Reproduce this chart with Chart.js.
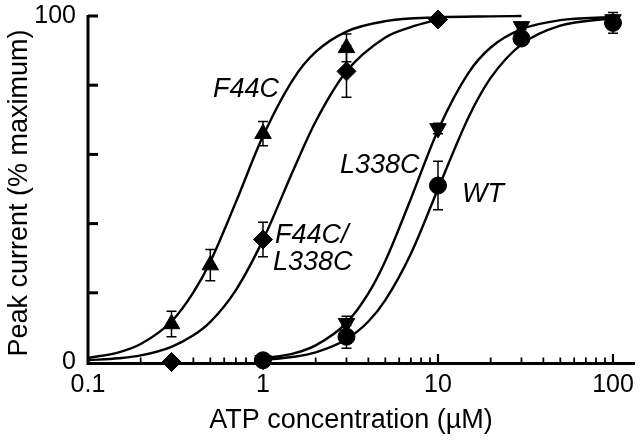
<!DOCTYPE html>
<html>
<head>
<meta charset="utf-8">
<script src="https://cdn.jsdelivr.net/npm/chart.js@4/dist/chart.umd.min.js"></script>
<style>
  html, body { margin: 0; padding: 0; background: #fff; }
  #wrap { width: 640px; height: 443px; }
</style>
</head>
<body>
<div id="wrap"><canvas id="c" width="640" height="443"></canvas></div>
<script>
// ---------- data ----------
// measured points (mean ± error), ATP concentration in µM
const f44cX   = [0.3, 0.5, 1, 3];
const f44cY   = [11, 28, 66, 90.8];
const f44cErr = [3.7, 4.5, 3.5, 4];

const dblX   = [0.3, 1, 3, 10];
const dblY   = [0, 35.4, 84, 99];
const dblErr = [0, 5, 7.5, 0];

const l338cX   = [1, 3, 10, 30, 100];
const l338cY   = [0.5, 11.2, 67.5, 97, 99];
const l338cErr = [0, 2, 1.5, 1, 0];

const wtX   = [1, 3, 10, 30, 100];
const wtY   = [0.5, 7.3, 51, 93.5, 98];
const wtErr = [0, 3.3, 7, 1.5, 3];

// fitted curves
const f44cCurveX = [0.1, 0.15, 0.2, 0.3, 0.4, 0.5, 0.7, 1, 1.5, 2, 3, 5, 10, 20, 30];
const f44cCurveY = [1.2, 2.8, 5.2, 11.7, 20.1, 29, 46.2, 65.3, 82, 89.6, 95.5, 98.5, 99.6, 99.9, 100];

const dblCurveX = [0.1, 0.15, 0.2, 0.3, 0.4, 0.5, 0.7, 1, 1.5, 2, 3, 5, 7, 10];
const dblCurveY = [0.5, 1.1, 1.9, 4.4, 7.7, 11.6, 20.8, 35.3, 55.8, 69.5, 84, 93.8, 96.8, 99];

const l338cCurveX = [1, 1.5, 2, 3, 4, 5, 7, 10, 15, 20, 30, 50, 100];
const l338cCurveY = [1.0, 2.5, 4.8, 11.3, 19.8, 29.2, 47.2, 67, 83.7, 90.9, 96.2, 98.8, 99.7];

const wtCurveX = [1, 1.5, 2, 3, 4, 5, 7, 10, 15, 20, 30, 50, 100];
const wtCurveY = [0.6, 1.5, 2.8, 6.6, 11.7, 17.9, 31.3, 50, 70.9, 82.1, 91.8, 97.2, 99.4];

// axes
const xTickValues = [0.1, 1, 10, 100];
const xTickLabels = ['0.1', '1', '10', '100'];
const xMinorTicks = [0.2,0.3,0.4,0.5,0.6,0.7,0.8,0.9, 2,3,4,5,6,7,8,9, 20,30,40,50,60,70,80,90];
const yTickValues = [0, 20, 40, 60, 80, 100];
const yTickLabels = ['0', '', '', '', '', '100'];

// series annotations
const seriesLabels = [
  { text: 'F44C',  x: 0.518, y: 76.6 },
  { text: 'F44C/', x: 1.17,  y: 34.4 },
  { text: 'L338C', x: 1.14,  y: 26.6 },
  { text: 'L338C', x: 2.75,  y: 54.6 },
  { text: 'WT',    x: 13.7,  y: 46.2 }
];
const xTitle = 'ATP concentration (\u00b5M)';
const yTitle = 'Peak current (% maximum)';

// ---------- build ----------
const FONT = '"Liberation Sans", Arial, Helvetica, sans-serif';
const pts = (xs, ys) => xs.map((x, i) => ({ x: x, y: ys[i] }));

function curve(xs, ys) {
  return {
    type: 'line', data: pts(xs, ys), borderColor: '#000', borderWidth: 2.4,
    pointRadius: 0, fill: false, cubicInterpolationMode: 'monotone',
    clip: false, order: 10
  };
}
function markers(xs, ys, errs, style, radius, rotation, order) {
  return {
    type: 'scatter', data: pts(xs, ys), errors: errs,
    pointStyle: style, pointRadius: radius, pointRotation: rotation,
    backgroundColor: '#000', borderColor: '#000', borderWidth: 1,
    showLine: false, clip: false, order: order
  };
}
function noPad(s) { s.paddingLeft = 0; s.paddingRight = 0; s.paddingTop = 0; s.paddingBottom = 0; }

const errorBars = {
  id: 'errorBars',
  beforeDatasetsDraw(chart) {
    const ctx = chart.ctx, xs = chart.scales.x, ys = chart.scales.y;
    ctx.save();
    ctx.strokeStyle = '#000';
    ctx.lineCap = 'butt';
    const left = xs.getPixelForValue(0.1);
    const bottom = ys.getPixelForValue(0);
    const top = ys.getPixelForValue(100);
    ctx.lineWidth = 3;
    ctx.beginPath();
    ctx.moveTo(left, top - 1);
    ctx.lineTo(left, bottom + 1.5);
    ctx.lineTo(chart.chartArea.right, bottom + 1.5);
    ctx.stroke();
    // y ticks (inward)
    yTickValues.forEach(v => {
      if (v === 0) return;
      const p = ys.getPixelForValue(v);
      ctx.beginPath(); ctx.moveTo(left, p); ctx.lineTo(left + 10, p); ctx.stroke();
    });
    // x major ticks
    ctx.lineWidth = 2.2;
    xTickValues.forEach(v => {
      if (v === 0.1) return;
      const p = xs.getPixelForValue(v);
      ctx.beginPath(); ctx.moveTo(p, bottom); ctx.lineTo(p, bottom - 8); ctx.stroke();
    });
    ctx.lineWidth = 1.8;
    xMinorTicks.forEach(v => {
      const p = xs.getPixelForValue(v);
      ctx.beginPath(); ctx.moveTo(p, bottom); ctx.lineTo(p, bottom - 4.5); ctx.stroke();
    });
    // error bars
    ctx.lineWidth = 1.5;
    chart.data.datasets.forEach(ds => {
      if (!ds.errors) return;
      ds.data.forEach((d, i) => {
        const e = ds.errors[i];
        if (!e) return;
        const px = xs.getPixelForValue(d.x);
        const y1 = ys.getPixelForValue(d.y + e);
        const y2 = ys.getPixelForValue(d.y - e);
        ctx.beginPath();
        ctx.moveTo(px, y1); ctx.lineTo(px, y2);
        ctx.moveTo(px - 5, y1); ctx.lineTo(px + 5, y1);
        ctx.moveTo(px - 5, y2); ctx.lineTo(px + 5, y2);
        ctx.stroke();
      });
    });
    ctx.restore();
  },
  afterDraw(chart) {
    const ctx = chart.ctx, xs = chart.scales.x, ys = chart.scales.y;
    ctx.save();
    ctx.fillStyle = '#000';
    ctx.textBaseline = 'alphabetic';
    ctx.textAlign = 'left';
    ctx.font = 'italic 27px ' + FONT;
    seriesLabels.forEach(l => {
      ctx.fillText(l.text, xs.getPixelForValue(l.x), ys.getPixelForValue(l.y));
    });
    // axis titles
    ctx.font = '27px ' + FONT;
    ctx.textAlign = 'center';
    ctx.fillText(xTitle, 351, 428);
    ctx.translate(27, 193);
    ctx.rotate(-Math.PI / 2);
    ctx.fillText(yTitle, 0, 0);
    ctx.restore();
  }
};

new Chart(document.getElementById('c'), {
  data: {
    datasets: [
      curve(f44cCurveX, f44cCurveY),
      curve(dblCurveX, dblCurveY),
      curve(l338cCurveX, l338cCurveY),
      curve(wtCurveX, wtCurveY),
      markers(f44cX, f44cY, f44cErr, 'triangle', 9.5, 0, 4),
      markers(l338cX, l338cY, l338cErr, 'triangle', 9.5, 180, 3),
      markers(dblX, dblY, dblErr, 'rectRot', 9.5, 0, 2),
      markers(wtX, wtY, wtErr, 'circle', 8.5, 0, 1)
    ]
  },
  options: {
    responsive: false,
    animation: false,
    devicePixelRatio: 1,
    layout: { autoPadding: false, padding: { top: 16, right: 5, left: 0, bottom: 0 } },
    plugins: { legend: { display: false }, tooltip: { enabled: false } },
    scales: {
      x: {
        type: 'logarithmic', min: 0.1, max: 133.6, bounds: 'data',
        grid: { display: false, drawTicks: false }, border: { display: false },
        afterBuildTicks: s => { s.ticks = xTickValues.map(v => ({ value: v })); },
        afterFit: s => { s.height = 81; noPad(s); },
        ticks: {
          autoSkip: false, maxRotation: 0, minRotation: 0, padding: 8, color: '#000',
          font: { family: FONT, size: 25 },
          callback: (v, i) => xTickLabels[i]
        }
      },
      y: {
        type: 'linear', min: 0, max: 100,
        grid: { display: false, drawTicks: false }, border: { display: false },
        afterBuildTicks: s => { s.ticks = yTickValues.map(v => ({ value: v })); },
        afterFit: s => { s.width = 88; noPad(s); },
        ticks: {
          autoSkip: false, padding: 12, color: '#000',
          font: { family: FONT, size: 25 },
          callback: (v, i) => yTickLabels[i]
        }
      }
    }
  },
  plugins: [errorBars]
});
</script>
</body>
</html>
